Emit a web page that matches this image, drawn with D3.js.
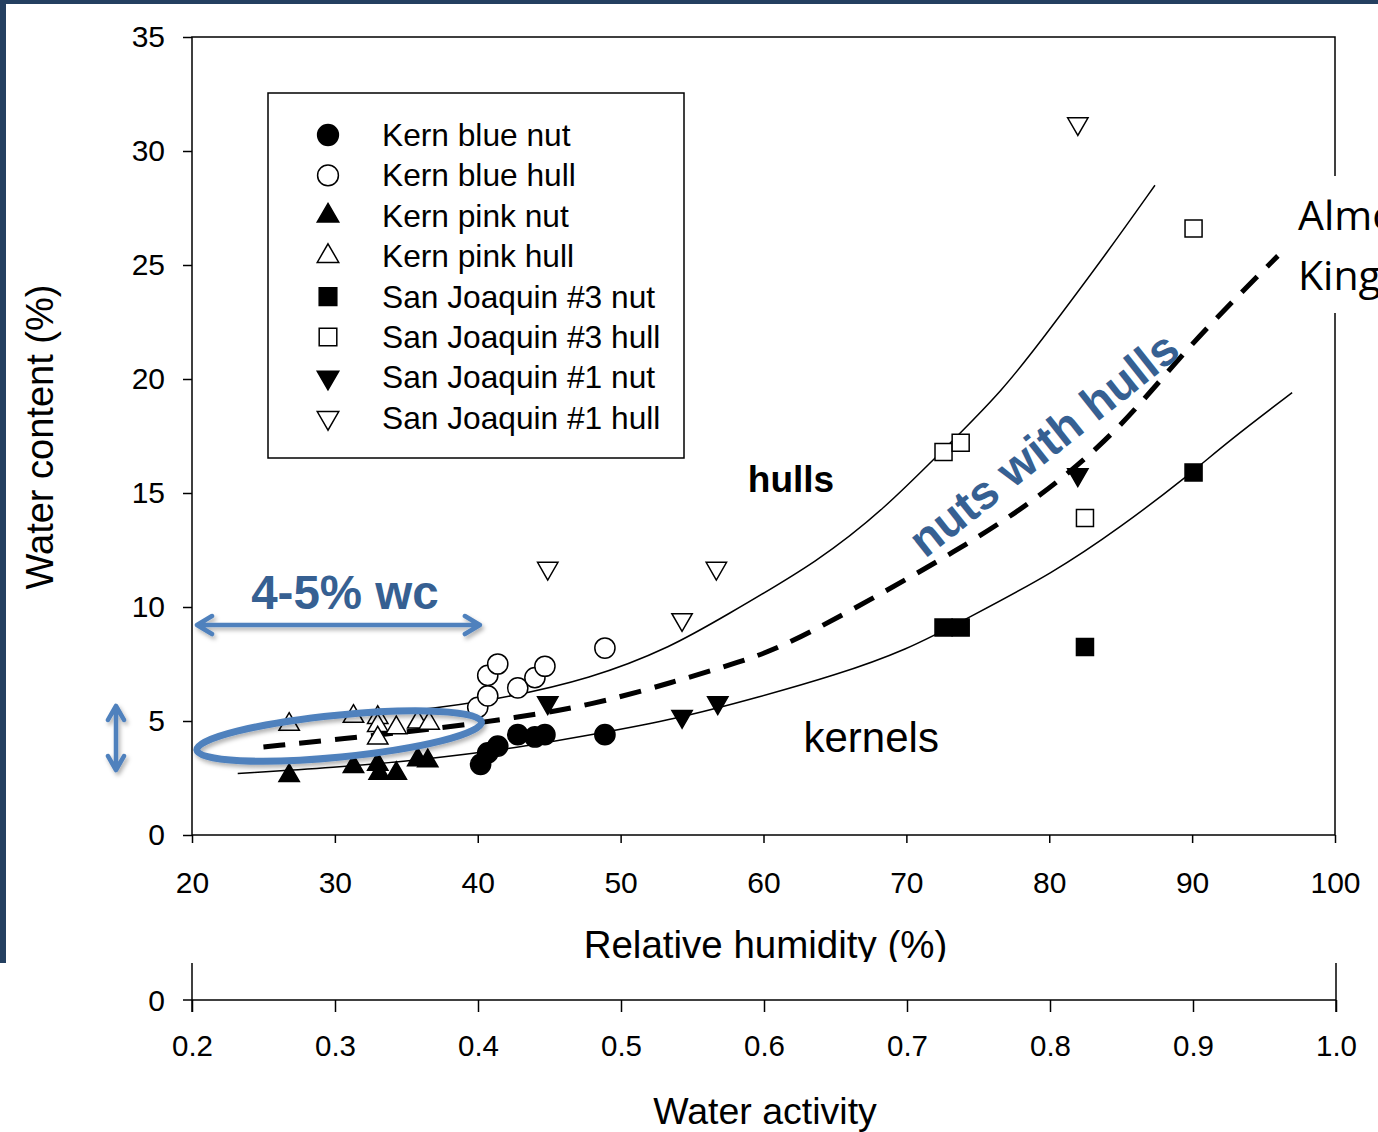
<!DOCTYPE html>
<html>
<head>
<meta charset="utf-8">
<script src="https://cdn.jsdelivr.net/npm/d3@7"></script>
<style>
  body { margin: 0; background: #fff; }
  svg { display: block; font-family: "Liberation Sans", Arial, sans-serif; }
</style>
</head>
<body>
<svg id="chart"></svg>
<script>
// points: [relative humidity %, water content %]
const kernBlueNut = [[40.2, 3.1], [40.7, 3.6], [41.4, 3.9], [42.8, 4.4], [44.0, 4.3], [44.7, 4.4], [48.9, 4.4]];
const kernBlueHull = [[40.0, 5.6], [40.7, 6.1], [40.7, 7.0], [41.4, 7.5], [42.8, 6.45], [44.0, 6.9], [44.7, 7.4], [48.9, 8.2]];
const kernPinkNut = [[26.8, 2.6], [31.3, 3.0], [33.0, 3.1], [33.1, 2.7], [34.3, 2.7], [35.8, 3.3], [36.5, 3.25]];
const kernPinkHull = [[26.8, 4.85], [31.3, 5.2], [33.0, 5.15], [33.0, 4.8], [33.0, 4.25], [34.3, 4.7], [35.8, 4.95], [36.6, 4.9]];
const sj3Nut = [[72.6, 9.1], [73.8, 9.1], [82.5, 8.25], [90.1, 15.9]];
const sj3Hull = [[72.6, 16.8], [73.8, 17.2], [82.5, 13.9], [90.1, 26.6]];
const sj1Nut = [[44.9, 5.8], [54.3, 5.2], [56.8, 5.8], [82.0, 15.8]];
const sj1Hull = [[44.9, 11.7], [54.3, 9.45], [56.7, 11.7], [82.0, 31.2]];

// fitted curves
const hullCurve = [[25.5, 4.95], [30, 5.15], [36, 5.48], [41, 5.9], [48, 6.85], [53.7, 8.3], [57, 9.5], [64, 12.05],
  [68.6, 14.4], [72.1, 16.6], [76.8, 19.5], [80.3, 22.4], [84, 25.5], [87.4, 28.5]];
const kernelCurve = [[23.2, 2.7], [30, 2.95], [36, 3.3], [42, 3.75], [48, 4.4], [54, 5.1], [59.7, 6.05], [65, 7.0],
  [70, 8.1], [74.4, 9.55], [80.3, 11.5], [85, 13.5], [89.6, 15.7], [92.6, 17.3], [97, 19.4]];
const nutCurve = [[25, 3.86], [31.8, 4.3], [37.4, 4.69], [42.5, 5.13], [48, 5.7], [53.7, 6.71], [58.4, 7.59], [61.65, 8.33],
  [67.46, 10.31], [73.26, 12.37], [79.14, 14.69], [84.95, 17.76], [89.64, 21.4], [96, 25.4]];

const rhTicks = [20, 30, 40, 50, 60, 70, 80, 90, 100];
const wcTicks = [0, 5, 10, 15, 20, 25, 30, 35];
const awTicks = [0.2, 0.3, 0.4, 0.5, 0.6, 0.7, 0.8, 0.9, 1.0];

const series = [
  { name: 'Kern blue nut', data: kernBlueNut, type: d3.symbolCircle, filled: true, rot: 0 },
  { name: 'Kern blue hull', data: kernBlueHull, type: d3.symbolCircle, filled: false, rot: 0 },
  { name: 'Kern pink nut', data: kernPinkNut, type: d3.symbolTriangle, filled: true, rot: 0 },
  { name: 'Kern pink hull', data: kernPinkHull, type: d3.symbolTriangle, filled: false, rot: 0 },
  { name: 'San Joaquin #3 nut', data: sj3Nut, type: d3.symbolSquare, filled: true, rot: 0 },
  { name: 'San Joaquin #3 hull', data: sj3Hull, type: d3.symbolSquare, filled: false, rot: 0 },
  { name: 'San Joaquin #1 nut', data: sj1Nut, type: d3.symbolTriangle, filled: true, rot: 180 },
  { name: 'San Joaquin #1 hull', data: sj1Hull, type: d3.symbolTriangle, filled: false, rot: 180 }
];

const width = 1378, height = 1132;
const blue = '#4f81bd', darkBlue = '#366092';

const svg = d3.select('#chart').attr('width', width).attr('height', height);

const defs = svg.append('defs');
const shadow = defs.append('filter').attr('id', 'shadow')
  .attr('x', '-20%').attr('y', '-50%').attr('width', '140%').attr('height', '200%');
shadow.append('feDropShadow').attr('dx', 2).attr('dy', 3).attr('stdDeviation', 2)
  .attr('flood-color', '#000').attr('flood-opacity', 0.3);

const x = d3.scaleLinear().domain([20, 100]).range([192, 1335]);
const y = d3.scaleLinear().domain([0, 35]).range([835, 37]);
const aw = d3.scaleLinear().domain([0.2, 1.0]).range([192, 1336]);

const symSize = t => (t === d3.symbolCircle ? 320 : t === d3.symbolSquare ? 290 : 180);

// plot frame
svg.append('rect')
  .attr('x', x(20)).attr('y', y(35))
  .attr('width', x(100) - x(20)).attr('height', y(0) - y(35))
  .attr('fill', 'none').attr('stroke', '#000').attr('stroke-width', 1.5);

// axes
const yAxis = svg.append('g').attr('transform', 'translate(' + x(20) + ',0)')
  .call(d3.axisLeft(y).tickValues(wcTicks).tickSize(9).tickSizeOuter(0).tickPadding(18));
const xAxis = svg.append('g').attr('transform', 'translate(0,' + y(0) + ')')
  .call(d3.axisBottom(x).tickValues(rhTicks).tickSize(8).tickSizeOuter(0).tickPadding(29));
[yAxis, xAxis].forEach(g => {
  g.select('.domain').remove();
  g.selectAll('line').attr('stroke', '#000').attr('stroke-width', 1.5);
  g.selectAll('text').attr('font-size', 30).attr('fill', '#000')
    .attr('font-family', '"Liberation Sans", Arial, sans-serif');
});

svg.append('text')
  .attr('transform', 'translate(53,437) rotate(-90)')
  .attr('text-anchor', 'middle').attr('font-size', 38).text('Water content (%)');

svg.append('text')
  .attr('x', (x(20) + x(100)) / 2 + 2).attr('y', 958)
  .attr('text-anchor', 'middle').attr('font-size', 38.5).text('Relative humidity (%)');

// curves
const line = d3.line().x(d => x(d[0])).y(d => y(d[1])).curve(d3.curveBasis);
svg.append('path').datum(hullCurve).attr('d', line)
  .attr('fill', 'none').attr('stroke', '#000').attr('stroke-width', 1.5);
svg.append('path').datum(kernelCurve).attr('d', line)
  .attr('fill', 'none').attr('stroke', '#000').attr('stroke-width', 1.5);
svg.append('path').datum(nutCurve).attr('d', line)
  .attr('fill', 'none').attr('stroke', '#000').attr('stroke-width', 5)
  .attr('stroke-dasharray', '22,14');

// points
series.forEach(s => {
  svg.append('g').selectAll('path')
    .data(s.data)
    .enter()
    .append('path')
    .attr('d', d3.symbol().type(s.type).size(symSize(s.type)))
    .attr('transform', d => 'translate(' + x(d[0]) + ',' + y(d[1]) + ') rotate(' + s.rot + ')')
    .attr('fill', s.filled ? '#000' : '#fff')
    .attr('stroke', '#000').attr('stroke-width', 1.5);
});

// legend
const legend = svg.append('g').attr('transform', 'translate(268,93)');
legend.append('rect').attr('width', 416).attr('height', 365)
  .attr('fill', '#fff').attr('stroke', '#000').attr('stroke-width', 1.5);
const item = legend.selectAll('.item').data(series).enter().append('g')
  .attr('class', 'item')
  .attr('transform', (d, i) => 'translate(60,' + (42 + i * 40.4) + ')');
item.append('path')
  .attr('d', d => d3.symbol().type(d.type).size(symSize(d.type) + 20)())
  .attr('transform', d => 'rotate(' + d.rot + ')')
  .attr('fill', d => (d.filled ? '#000' : '#fff'))
  .attr('stroke', '#000').attr('stroke-width', 1.5);
item.append('text').attr('x', 54).attr('y', 11)
  .attr('font-size', 31.7).text(d => d.name);

// annotations
svg.append('text').attr('x', x(58.9)).attr('y', y(15.04))
  .attr('font-size', 37).attr('font-weight', 'bold').text('hulls');
svg.append('text').attr('x', x(62.8)).attr('y', y(3.64))
  .attr('font-size', 42).text('kernels');
svg.append('text')
  .attr('transform', 'translate(' + x(71.3) + ',' + y(12.1) + ') rotate(-38.5)')
  .attr('font-size', 47).attr('font-weight', 'bold').attr('fill', darkBlue)
  .text('nuts with hulls');
svg.append('text').attr('x', x(30.7)).attr('y', y(9.9))
  .attr('text-anchor', 'middle').attr('font-size', 47.5).attr('font-weight', 'bold')
  .attr('fill', darkBlue).text('4-5% wc');

const ann = svg.append('g').attr('filter', 'url(#shadow)')
  .attr('stroke', blue).attr('fill', 'none').attr('stroke-linecap', 'round').attr('stroke-linejoin', 'round');

// ellipse round the low humidity points
const ecx = x(30.3), ecy = y(4.34);
ann.append('ellipse').attr('cx', ecx).attr('cy', ecy).attr('rx', 143).attr('ry', 21)
  .attr('transform', 'rotate(-5.6,' + ecx + ',' + ecy + ')')
  .attr('stroke-width', 7);

// horizontal double arrow
const ax1 = x(20.35), ax2 = x(40.15), ay = y(9.21);
ann.append('path').attr('stroke-width', 4.5)
  .attr('d', 'M' + ax1 + ',' + ay + 'H' + ax2 +
    'M' + (ax1 + 15) + ',' + (ay - 9) + 'L' + ax1 + ',' + ay + 'L' + (ax1 + 15) + ',' + (ay + 9) +
    'M' + (ax2 - 15) + ',' + (ay - 9) + 'L' + ax2 + ',' + ay + 'L' + (ax2 - 15) + ',' + (ay + 9));

// vertical double arrow
const vx = x(14.68), vy1 = y(5.66), vy2 = y(2.85);
ann.append('path').attr('stroke-width', 4.5)
  .attr('d', 'M' + vx + ',' + vy1 + 'V' + vy2 +
    'M' + (vx - 8) + ',' + (vy1 + 14) + 'L' + vx + ',' + vy1 + 'L' + (vx + 8) + ',' + (vy1 + 14) +
    'M' + (vx - 8) + ',' + (vy2 - 14) + 'L' + vx + ',' + vy2 + 'L' + (vx + 8) + ',' + (vy2 - 14));

// side label box covering the frame edge (cut by the slide edge, as in the source)
svg.append('rect').attr('x', 1289).attr('y', 176).attr('width', 100).attr('height', 137).attr('fill', '#fff');
svg.append('text').attr('x', 1298).attr('y', 230)
  .attr('font-family', '"Open Sans", sans-serif').attr('font-size', 41).text('Almond');
svg.append('text').attr('x', 1298).attr('y', 290)
  .attr('font-family', '"Open Sans", sans-serif').attr('font-size', 41).text('King');

// lower panel: water activity axis
svg.append('rect').attr('x', 0).attr('y', 962).attr('width', width).attr('height', height - 962).attr('fill', '#fff');
const awAxis = svg.append('g').attr('transform', 'translate(0,1000)')
  .call(d3.axisBottom(aw).tickValues(awTicks).tickFormat(d3.format('.1f')).tickSize(12).tickSizeOuter(0).tickPadding(23));
awAxis.select('.domain').remove();
awAxis.selectAll('line').attr('stroke', '#000').attr('stroke-width', 1.5);
awAxis.selectAll('text').attr('font-size', 29.5).attr('fill', '#000')
  .attr('font-family', '"Liberation Sans", Arial, sans-serif');
const lower = svg.append('g').attr('stroke', '#000').attr('stroke-width', 1.5);
lower.append('line').attr('x1', 183).attr('x2', aw(1.0)).attr('y1', 1000).attr('y2', 1000);
lower.append('line').attr('x1', aw(0.2)).attr('x2', aw(0.2)).attr('y1', 963).attr('y2', 1012);
lower.append('line').attr('x1', aw(1.0)).attr('x2', aw(1.0)).attr('y1', 963).attr('y2', 1012);
svg.append('text').attr('x', 165).attr('y', 1000).attr('dy', '0.35em')
  .attr('text-anchor', 'end').attr('font-size', 30).text('0');
svg.append('text').attr('x', 765).attr('y', 1124)
  .attr('text-anchor', 'middle').attr('font-size', 37.5).text('Water activity');

// dark slide frame
svg.append('rect').attr('x', 0).attr('y', 0).attr('width', width).attr('height', 4).attr('fill', '#243f60');
svg.append('rect').attr('x', 0).attr('y', 0).attr('width', 6).attr('height', 963).attr('fill', '#243f60');
</script>
</body>
</html>
